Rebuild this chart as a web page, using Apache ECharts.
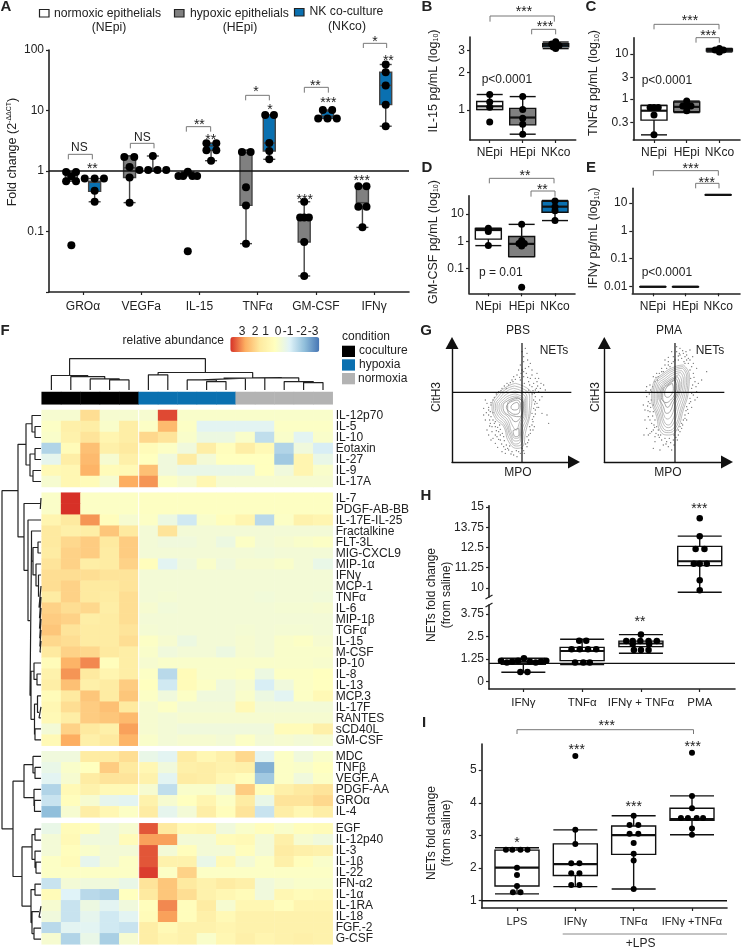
<!DOCTYPE html>
<html><head><meta charset="utf-8">
<style>html,body{margin:0;padding:0;background:#fff}#c{width:742px;height:949px}</style>
<script src="https://cdn.jsdelivr.net/npm/echarts@6/dist/echarts.min.js"></script>
</head><body><div id="c"></div>
<script>
// ---------- Panel A ----------
const aCategories=['GROα','VEGFa','IL-15','TNFα','GM-CSF','IFNγ'];
const aHEpiBox=[[.68,.68,.75,.96,.96],[.3,.78,1.13,1.77,1.77],[.83,.83,.85,.97,.97],[.063,.27,2.0,2.2,2.2],[.0184,.067,.16,.17,.31],[.117,.257,.3,.57,.57]];
const aNKcoBox=[[.31,.46,.65,.68,.75],[1.0,1.0,1.04,1.1,1.77],[1.48,2.2,2.6,2.87,2.87],[1.56,2.14,2.9,8.4,8.4],[7.4,7.4,8,9.8,10.2],[5.5,12.5,26,43,57.6]];
const aHEpiPoints=[[.96,.96,.68,.68,.82,.059],[1.7,1.7,1.16,.78,.30],[.83,.83,.83,.83,.97,.047],[2.06,2.06,.54,.27,.063],[.31,.17,.17,.17,.067,.0184],[.56,.56,.257,.257,.117]];
const aHEpiJitter=[[-.09,.08,-.09,.08,0,0],[-.09,.08,0,0,0],[-.16,-.08,.08,.16,0,0],[-.07,.08,0,0,0],[0,-.07,0,.08,0,0],[-.07,.07,-.07,.07,0]];
const aNKcoPoints=[[.75,.75,.75,.47,.31],[1.04,1.04,1.04,1.04,1.77],[2.87,2.87,2.2,2.2,1.48],[8.4,8.4,2.9,2.14,1.56],[10.2,10.2,7.4,7.4,7.4],[57.6,43,26,12.5,5.5]];
const aNKcoJitter=[[-.17,0,.16,0,0],[-.23,-.08,.08,.23,0],[-.08,.09,-.08,.09,0],[-.07,.08,0,0,0],[-.08,.08,-.16,0,.16],[0,0,0,0,0]];
// ---------- Panels B-E ----------
const groupNames=['NEpi','HEpi','NKco'];
const bBox=[[1.01,1.01,1.07,1.17,1.33],[.64,.76,.87,1.03,1.28],[3.1,3.2,3.3,3.4,3.5]];
const bPoints=[[1.33,1.16,1.05,.8],[1.28,1.01,.86,.77,.64],[3.37,3.52,3.28,3.11,3.2]];
const bJitter=[[0,0,0,0],[0,0,0,0,0],[-.12,0,.1,0,-.07]];
const cBox=[[.16,.34,.55,.72,.72],[.5,.52,.67,.86,.9],[11.1,11.6,12.3,12.9,13.3]];
const cPoints=[[.65,.65,.65,.44,.16],[.9,.7,.7,.7,.55],[13.3,12.3,12.3,11.1]];
const cJitter=[[-.12,0,.13,0,0],[0,-.12,0,.13,0],[0,-.13,.12,0]];
const dBox=[[.69,1.2,2.6,3.0,3.0],[.27,.27,.8,1.5,4.2],[5.8,11.7,18.9,30,32]];
const dPoints=[[3.0,2.3,.69],[4.2,1.06,.67,.82,.82,.02],[30.5,18.9,13.5,5.8]];
const dJitter=[[0,0,0],[0,0,0,-.08,.08,0],[0,0,0,0]];
const eBox=[[.01,.01,.01,.01,.01],[.01,.01,.01,.01,.01],[19.3,19.3,19.3,19.3,19.3]];
// ---------- Panel F ----------
const conditions=['coculture','hypoxia','normoxia'];
const heatRowsA=['IL-12p70','IL-5','IL-10','Eotaxin','IL-27','IL-9','IL-17A'];
const heatValuesA=[
[-.3,-.3,1.2,-.3,-.3,-.3,2.8,-.2,-.2,-.2,-.2,-.2,-.2,-.2,-.2],
[-.1,.7,.8,-.2,.8,-.1,1.8,-.1,-.9,-.9,-.9,-.9,-.1,-.1,-.1],
[-.2,.6,1.1,.5,.8,1.3,1.1,-.2,-.6,-.6,-.2,-1.4,-.2,-.9,-.2],
[-1.6,.2,1.7,.7,1,.2,-.1,-.5,.8,.1,.8,.3,-1.6,-.5,-1.1],
[-.8,.8,1.8,-.3,.7,0,-.5,.9,-.4,0,0,0,-1.8,.5,-.7],
[.3,.4,1.9,.2,.3,1.7,-.5,-.7,-.7,-.7,-.7,0,-.5,.5,-.2],
[-.3,.4,.2,-.3,2,2.2,-.1,-.3,.4,-.3,-.3,-.3,-.3,-.3,-.3]];
const heatRowsB=['IL-7','PDGF-AB-BB','IL-17E-IL-25','Fractalkine','FLT-3L','MIG-CXCL9','MIP-1α','IFNγ','MCP-1','TNFα','IL-6','MIP-1β','TGFα','IL-15','M-CSF','IP-10','IL-8','IL-13','MCP.3','IL-17F','RANTES','sCD40L','GM-CSF'];
const heatValuesB=[
[-.15,3,-.1,-.1,-.1,-.05,-.05,-.05,-.05,-.05,-.05,-.05,-.05,-.05,-.05],
[-.15,3,-.1,-.1,-.1,-.05,-.05,-.05,-.05,-.05,-.05,-.05,-.05,-.05,-.05],
[.5,1,2.2,.1,-.3,-.1,-.6,-1.2,-.2,.1,.5,-1.5,-.1,.6,.5],
[1,.7,.8,1.6,1,-.4,1.1,-.4,-.4,-.4,-.4,-.4,-.4,-.4,-.4],
[1,1.3,1.5,1,1.5,-.4,-.5,-.5,-.4,-.6,-.1,-.4,-.3,-.2,-.1],
[.9,1.4,1.5,.9,1.5,-.4,-.4,-.4,-.4,-.4,-.4,-.45,-.4,-.4,-.4],
[1.1,1.4,.8,.9,1.4,.1,-.9,-.5,-.2,-.5,-.3,-.3,-.2,-.4,-.7],
[1.2,1.2,1.2,1.1,1.1,-.4,-.4,-.4,-.4,-.4,-.4,-.4,-.4,-.4,-.4],
[1.2,1.4,1,1,1.1,-.4,-.4,-.4,-.4,-.4,-.4,-.4,-.4,-.4,-.4],
[.9,1.4,1,.9,1.2,-.4,-.35,-.4,-.4,-.4,-.4,-.45,-.4,-.4,-.45],
[1.4,1.2,1.3,.8,1.2,-.3,-.45,-.4,-.4,-.4,-.4,-.4,-.35,-.35,-.3],
[1.5,1.4,.8,.9,1.2,-.4,-.4,-.4,-.4,-.4,-.4,-.4,-.4,-.4,-.4],
[1.6,1.1,.9,.9,1.1,-.35,-.4,-.4,-.4,-.4,-.35,-.4,-.35,-.35,-.4],
[1.3,1.2,.9,.9,1.2,-.1,-.3,-.6,-.4,-.4,-.3,-.4,-.2,-.1,-.3],
[1,1.4,1.3,1,.8,-.2,-.5,-.4,-.4,-.6,-.3,-.4,-.2,-.2,-.2],
[.2,1.9,2.3,.1,.8,-.3,-.2,-.2,-.2,-.2,-.2,-.2,-.2,-.2,-.25],
[.6,2.2,1,.5,.8,-.1,-1.5,.2,-.2,-.2,-.1,-.6,-.1,-.1,0],
[.8,1.7,.7,.9,1.5,0,-1.2,.2,-.1,-.5,-.3,-1.1,-.5,-.1,0],
[.2,1,1.6,.9,1.6,-.1,-.5,-.1,-.5,-.5,-.2,-.6,-.9,-.1,.3],
[.4,1.2,1.5,1.7,1,-.3,-.1,-.4,-.4,-.4,.3,-.4,-.4,-.4,-.4],
[.3,.8,1.5,1.6,1.8,-.3,-.4,-.3,-.3,-.3,-.3,-.3,-.3,-.3,-.3],
[-.4,1.4,1,.7,2.1,-.3,-.4,-.5,-.5,-.5,-.5,-.5,.2,.2,.7],
[.3,2,.7,1,1.9,-.2,-.4,-.3,-.3,-.4,-.1,-.4,-.3,-.4,-.3]];
const heatRowsC=['MDC','TNFβ','VEGF.A','PDGF-AA','GROα','IL-4'];
const heatValuesC=[
[-.5,-.5,.9,.9,1.2,-.7,-.9,.9,.4,.7,1.3,-.9,-.1,-.5,-.2],
[-.7,-.2,0,1.5,1,.4,-.5,.7,.8,.6,.7,-2.2,-.1,-.2,0],
[-.9,-.3,.9,1.1,1.1,.6,-.9,.9,.8,.4,.1,-1.8,-.1,-.5,-.1],
[-1.6,.3,.6,.3,.3,-.3,-1.4,-.2,-.2,-.5,1.5,.1,.7,1,1.1],
[-1.3,.1,-.3,-.8,-.9,.6,-.3,0,.5,-.1,.9,-.7,1.1,1.1,1.3],
[-2,-.3,.8,.4,-.1,.9,-.8,-.4,.8,.1,1.1,-1.3,.8,.4,.8]];
const heatRowsD=['EGF','IL-12p40','IL-3','IL-1β','IL-22','IFN-α2','IL-1α','IL-1RA','IL-18','FGF.-2','G-CSF'];
const heatValuesD=[
[-.7,.2,.1,-.5,-.3,2.7,1,.3,.4,-.5,-.2,.1,-.2,.1,.2],
[-.4,.3,-.5,-.5,.2,2.1,2.1,-.4,-.4,.2,.3,-.4,.7,-.3,-.5],
[-.4,.1,-.2,-.4,-.4,2.7,-.4,.1,-.4,-.4,.1,-.4,.9,.7,.6],
[-.1,.2,-.8,-.4,-.1,2.7,.6,.6,-.7,.3,-.4,-.1,.7,.1,-.2],
[-.1,-.1,-.1,-.1,-.1,2.9,-.1,1.4,-.1,-.1,-.1,-.1,-.1,-.1,-.1],
[-1.3,-.4,-.5,-.5,-.7,1.1,1.6,1,.6,.9,.7,-.5,-.3,-.2,-.2],
[.2,-1,-1.5,-1.6,0,1,1.6,1.2,.6,.4,.2,-.5,.4,.2,.3],
[-.3,-1.3,-.6,-.9,-.5,.1,2.3,.1,.9,-.3,.4,.4,.1,.5,.5],
[-.5,-1.3,-.8,-1.2,-.9,.2,2.1,.1,.7,.3,.6,.6,.6,.6,.6],
[-1.5,-.9,-.9,-1.2,-1.3,.8,.3,.6,.6,.5,.6,.6,.6,.6,.6],
[-.3,-1.6,-.7,-1.7,-.3,.8,.5,.6,-.2,.4,.7,.5,.6,.7,.6]];
// dendrogram trees: [merge height, left child, right child]; a number is a leaf index
const colTree=[93,[43,0,[40,1,[33,2,[30,3,4]]]],[52,[45,5,6],[37,[35,[30,7,[25,8,9]],10],[36,11,[25,12,[22,13,14]]]]]];
const rowTree=[39,[23,[15,[9,0,[6,1,2]],[11,[6,3,4],[8,5,6]]],[17,[.7,7,8],[13,9,[11,
 [9.5,10,[8,[3,11,12],[5,13,[2.5,14,[2,15,[1.5,16,[1.5,17,[1.3,18,[1.2,19,[1,20,21]]]]]]]]]],
 [10,[7,22,[4,23,24]],[6.5,[3.5,25,[2,26,27]],[6,28,29]]]]]]],
 [28,[17,[8,30,[6,31,32]],[7,33,[6.5,34,35]]],[19,[9,[6,36,37],[6,38,[5,39,40]]],[10,[6,41,42],[9,[2,43,44],[7,45,46]]]]]];
// ---------- Panel G ----------
const pbsContours=[
[[285,190],[335,225],[330,280],[315,340],[310,375],[290,385],[265,365],[250,320],[225,295],[215,260],[230,225],[260,200]],
[[283,198],[328,228],[326,280],[310,335],[305,370],[288,378],[268,358],[252,315],[228,290],[220,258],[235,228],[260,206]],
[[280,205],[320,230],[320,280],[305,330],[300,365],[285,372],[270,350],[255,310],[232,285],[225,258],[240,232],[262,212]],
[[283,213],[316,235],[316,280],[302,322],[299,358],[285,363],[271,342],[258,305],[236,281],[230,258],[245,235],[265,219]],
[[285,222],[312,240],[312,280],[300,315],[298,350],[285,355],[273,335],[262,300],[240,278],[236,258],[250,238],[268,226]],
[[288,228],[309,244],[309,278],[298,306],[287,330],[277,318],[264,292],[245,274],[242,258],[256,240],[272,231]],
[[288,232],[305,245],[305,280],[295,300],[285,305],[270,290],[250,272],[248,258],[262,242]],
[[292,235],[310,250],[308,272],[296,290],[280,288],[262,270],[262,252],[275,240]],
[[290,240],[300,250],[298,275],[285,283],[268,275],[258,262],[268,248]],
[[290,247],[296,255],[292,268],[282,270],[272,262],[278,252]],
[[278,332],[294,325],[296,345],[285,350]]];
const pmaContours=[
[[790,135],[808,165],[805,215],[790,270],[770,330],[745,345],[722,335],[710,290],[695,235],[700,190],[730,160],[765,140]],
[[789,140],[804,168],[801,215],[786,268],[767,324],[745,338],[725,328],[714,288],[699,235],[704,192],[732,164],[765,145]],
[[788,145],[800,170],[796,215],[782,265],[765,318],[745,332],[728,322],[718,285],[703,235],[708,195],[735,168],[765,150]],
[[785,152],[795,174],[791,215],[777,260],[761,309],[745,323],[731,313],[721,278],[708,235],[712,198],[738,173],[765,156]],
[[782,158],[790,178],[786,215],[772,255],[758,300],[745,315],[733,305],[724,270],[712,235],[716,200],[740,178],[765,162]],
[[777,164],[785,184],[780,218],[767,250],[754,288],[742,297],[731,283],[722,250],[716,232],[720,203],[742,182]],
[[772,170],[780,190],[775,220],[762,245],[750,275],[740,280],[730,260],[720,232],[724,205],[745,185]],
[[768,175],[775,194],[770,222],[757,243],[742,262],[733,248],[724,232],[727,208],[747,189]],
[[764,180],[770,197],[764,222],[752,240],[738,248],[728,232],[730,210],[748,192]],
[[757,190],[760,205],[754,224],[742,232],[734,222],[738,205]]];
const pbsEvents=[[315,85],[320,100],[310,110],[322,120],[300,135],[315,145],[335,150],[290,165],[310,170],[350,185],[370,195],[360,205],[345,210],[275,180],[260,190],[245,205],[235,215],[365,230],[350,250],[345,270],[340,290],[380,285],[335,315],[330,340],[325,360],[320,380],[200,250],[190,265],[205,285],[195,300],[210,310],[225,320],[215,335],[205,345],[230,350],[240,360],[225,370],[250,380],[245,395],[265,390],[300,400],[280,405],[210,275],[218,300],[235,335],[250,350],[335,200],[345,230],[355,215],[340,265],[305,95],[330,130],[350,160],[355,175],[320,350],[338,330],[225,345],[258,375],[215,320],[300,180],[325,185],[340,190],[280,170],[265,195],[330,175],[345,245],[338,305],[328,320],[205,270],[212,255],[218,240],[208,300],[222,310],[238,315],[240,345],[252,362],[262,385],[275,395],[295,395],[310,392],[322,368],[335,280],[342,220],[352,198],[328,195],[385,310],[310,125],[295,150],
[302,160],[318,160],[285,178],[270,188],[252,198],[242,212],[228,222],[222,232],[212,248],[205,262],[198,278],[212,290],[218,278],[225,305],[232,322],[228,332],[240,328],[246,340],[235,358],[244,372],[255,388],[268,378],[272,402],[288,392],[305,385],[316,372],[330,330],[336,298],[345,282],[350,262],[358,240],[340,240],[348,205],[338,212],[362,190],[325,210],[312,190],[298,172],[278,185],[258,205],[246,218],[208,318],[200,330],[218,355],[232,382],[305,150],[325,140],[310,155],[335,165],[345,175],[375,210],[355,262],[365,280],[342,320],[325,345],[312,400],[290,410],[255,400],[212,360],[195,240],[190,285],[322,172],[336,222],[343,252]];
const pmaEvents=[[770,95],[790,100],[760,110],[785,115],[800,105],[810,120],[820,130],[745,125],[735,135],[725,145],[710,160],[700,170],[820,160],[825,185],[815,205],[830,215],[810,235],[800,260],[805,280],[790,300],[780,320],[775,345],[760,360],[740,365],[725,360],[705,350],[690,340],[680,325],[695,310],[685,290],[700,275],[690,250],[680,230],[695,215],[680,200],[700,330],[715,345],[730,375],[745,380],[755,390],[860,155],[810,90],[770,80],[795,130],[810,150],[685,345],[672,345],[700,385],[720,390],[780,335],[795,285],[690,275],[675,270],[705,300],[815,220],[825,240],[800,120],[780,105],[755,95],[775,120],[755,130],[740,145],[715,170],[705,185],[690,195],[812,175],[818,195],[808,250],[798,272],[785,310],[768,352],[752,368],[715,330],[702,315],[692,262],[700,255],[685,245],[792,125],
[778,100],[795,110],[805,130],[765,120],[750,140],[730,155],[718,160],[712,180],[698,200],[688,222],[694,240],[683,258],[698,288],[690,300],[704,322],[695,335],[708,340],[718,352],[735,355],[748,355],[762,345],[775,330],[788,315],[795,295],[803,268],[812,245],[820,225],[828,200],[822,172],[815,140],[805,115],[788,92],[775,108],[760,125],[745,135],[725,155],[708,172],[692,210],[678,212],[684,272],[710,320],[722,345],[738,372],[762,375],[772,360],[785,325],[800,300],[815,262],[832,232],[835,190],[830,145],[818,110],[798,95],[780,85],[745,112],[735,120],[705,365],[675,300],[670,255],[845,180]];
// ---------- Panel H ----------
const hCategories=['IFNγ','TNFα','IFNγ + TNFα','PMA'];
const hBoxLower=[[.5,.95,1.0,1.1,1.28],[.93,1.15,1.69,1.89,2.34],[1.56,1.93,2.1,2.24,2.6]];
const hBoxUpper=[[9.73,11.38,11.65,12.57,13.2]];
const hPointsLower=[[1.15,1.04,1.1,1.15,1.28,1.1,1.04,1.1,1.15,.52,.52],[2.26,2.26,1.78,1.78,1.78,1.78,1.04,1.04,1.04],[2.6,2.24,2.24,2.24,2.24,2.24,2.08,2.08,1.74,1.74,1.74]];
const hJitterLower=[[-.38,-.28,-.19,-.09,.01,.11,.21,.3,.39,-.05,.07],[-.05,.07,-.18,-.04,.1,.24,-.12,.02,.13],[0,-.25,-.14,-.01,.13,.27,-.14,.14,-.12,0,.13]];
const hPointsUpper=[[14.3,13.2,12.4,12.4,11.5,11.5,11.5,10.47,9.86]];
const hJitterUpper=[[0,0,-.07,.08,-.1,0,.12,0,0]];
// ---------- Panel I ----------
const iCategories=['LPS','IFNγ','TNFα','IFNγ +TNFα'];
const iBox=[[1.21,1.45,2.01,2.55,2.62],[1.43,1.77,2.12,2.74,3.17],[1.36,2.42,3.01,3.29,3.6],[3.02,3.46,3.5,3.83,4.21]];
const iPoints=[[2.56,2.56,2.56,2.56,2.01,1.79,1.45,1.26,1.26],[5.43,3.17,2.74,2.15,2.15,1.84,1.84,1.48,1.48],[3.6,3.32,3.32,3.05,3.05,2.77,2.44,2.23,1.36],[5.53,4.21,3.83,3.53,3.53,3.53,3.53,3.21,3.02]];
const iJitter=[[-.19,-.08,.06,.18,0,0,0,-.07,.06],[0,0,0,-.07,.07,-.07,.07,-.07,.07],[0,-.07,.08,-.07,.08,0,0,0,0],[0,0,0,-.19,-.07,.08,.19,0,0]];

const INK='#222',BLUE='#0a70b0',GREY='#808080',FONT='"Liberation Sans",Arial,sans-serif';
const grid=[],xAxis=[],yAxis=[],series=[],graphic=[];
const axisLine={show:true,onZero:false,lineStyle:{color:INK,width:1.6}};
const axisTick={show:true,length:3,lineStyle:{color:INK,width:1.2}};
function addGrid(g,x,y){const i=grid.length;grid.push(Object.assign({containLabel:false},g));
  xAxis.push(Object.assign({gridIndex:i,splitLine:{show:false}},x));
  yAxis.push(Object.assign({gridIndex:i,splitLine:{show:false}},y));return i;}
function catX(min,max,cats,fs,margin){return {type:'value',min,max,axisLine,
  axisTick:Object.assign({},axisTick,{customValues:cats.map((c,i)=>i)}),
  axisLabel:{customValues:cats.map((c,i)=>i),formatter:v=>cats[Math.round(v)],fontSize:fs||12,color:INK,fontFamily:FONT,margin:margin||6}};}
function valY(o,ticks,fmt){return Object.assign({axisLine,
  axisTick:ticks?Object.assign({},axisTick,{customValues:ticks}):axisTick,
  axisLabel:Object.assign({fontSize:12,color:INK,fontFamily:FONT,margin:5,showMinLabel:true,showMaxLabel:true},ticks?{customValues:ticks}:{},fmt?{formatter:fmt}:{})},o);}
function boxes(gi,rows,xs,width,fill,stroke,lw,medLw){
  series.push({type:'custom',xAxisIndex:gi,yAxisIndex:gi,z:3,clip:false,silent:true,
    encode:{x:0,y:[1,2,3,4,5]},
    data:rows.map((r,i)=>[xs[i]].concat(r)),
    renderItem(params,api){
      const x=api.value(0),P=d=>api.coord([x,api.value(d)]);
      const lo=P(1),q1=P(2),med=P(3),q3=P(4),hi=P(5),cx=lo[0],hw=width/2;
      const L=(x1,y1,x2,y2,w)=>({type:'line',shape:{x1,y1,x2,y2},style:{stroke,lineWidth:w||lw}});
      return {type:'group',children:[
        L(cx,hi[1],cx,q3[1]),L(cx,q1[1],cx,lo[1]),L(cx-hw,hi[1],cx+hw,hi[1]),L(cx-hw,lo[1],cx+hw,lo[1]),
        {type:'rect',shape:{x:cx-hw,y:q3[1],width:width,height:Math.max(q1[1]-q3[1],.1)},style:{fill,stroke,lineWidth:lw}},
        L(cx-hw,med[1],cx+hw,med[1],medLw)]};
    }});
}
function dots(gi,points,jitter,xs,size){
  const data=[];points.forEach((g,i)=>g.forEach((v,j)=>data.push([xs[i]+jitter[i][j],v])));
  series.push({type:'scatter',xAxisIndex:gi,yAxisIndex:gi,z:5,clip:false,silent:true,symbolSize:size,itemStyle:{color:'#000',opacity:1},data});
}
function refLine(gi,min,max,y){series.push({type:'line',xAxisIndex:gi,yAxisIndex:gi,z:4,silent:true,symbol:'none',lineStyle:{color:'#111',width:1.4},data:[[min,y],[max,y]]});}

// graphic helpers
function T(text,x,y,o){o=o||{};graphic.push({type:'text',x,y,rotation:o.rot||0,z:50,silent:true,style:{text,fill:o.fill||INK,fontSize:o.fs||12,fontFamily:FONT,fontWeight:o.bold?'bold':'normal',align:o.align||'center',verticalAlign:'middle',lineHeight:o.lh,rich:o.rich}});}
function Star(text,x,y){T(text,x,y+3,{fs:14});}
function Bracket(x1,x2,y1,y2){graphic.push({type:'polyline',z:50,silent:true,shape:{points:[[x1,y2],[x1,y1],[x2,y1],[x2,y2]]},style:{fill:'none',stroke:'#777',lineWidth:1}});}
function Rect(x,y,w,h,fill,stroke){graphic.push({type:'rect',z:50,silent:true,shape:{x,y,width:w,height:h},style:{fill,stroke:stroke||'none',lineWidth:stroke?1.2:0}});}
function Seg(x1,y1,x2,y2,c,w){graphic.push({type:'line',z:50,silent:true,shape:{x1,y1,x2,y2},style:{stroke:c||'#777',lineWidth:w||1}});}

// ---------- A ----------
{
  const minX=-.584,maxX=5.6;
  const gi=addGrid({left:49,top:50,width:360,height:242},catX(minX,maxX,aCategories,12,9),
    valY({type:'log',min:.01,max:100},null,v=>v<.02?'':String(v)));
  const h=aCategories.map((c,i)=>i-.2),n=aCategories.map((c,i)=>i+.2);
  boxes(gi,aHEpiBox,h,12,GREY,'#444',1.4,1.4);
  boxes(gi,aNKcoBox,n,12,BLUE,'#444',1.4,1.4);
  dots(gi,aHEpiPoints,aHEpiJitter,h,8);
  dots(gi,aNKcoPoints,aNKcoJitter,n,8);
  refLine(gi,minX,maxX,1);
}
T('{a|Fold change (2}{s|-ΔΔCT}{a|)}',12.5,152,{rot:Math.PI/2,rich:{a:{fontSize:12.5,fill:INK,fontFamily:FONT},s:{fontSize:7,fill:INK,fontFamily:FONT,padding:[0,0,6,0]}}});
T('A',6,7,{bold:true,fs:15});
Rect(39.5,9.5,9.5,7.5,'#fff','#222');T('normoxic epithelials',54,13.5,{align:'left',fs:12.2});T('(NEpi)',109,28,{fs:12.2});
Rect(174.5,9.5,9.5,7.5,GREY,'#222');T('hypoxic epithelials',190,13.5,{align:'left',fs:12.2});T('(HEpi)',240,28,{fs:12.2});
Rect(294.5,8.5,9.5,7.5,BLUE,'#222');T('NK co-culture',309.5,12,{align:'left',fs:12.2});T('(NKco)',347,27,{fs:12.2});
[[205,277,463,478],[391,462,430,445],[559,632,380,395],[737,808,286,301],[913,985,262,278],[1090,1160,130,144]].forEach(b=>Bracket(b[0]/3,b[1]/3,b[2]/3,b[3]/3));
T('NS',238/3,442/3);T('NS',427/3,412/3);
[['**',277,498],['**',598,365],['**',632,410],['*',768,266],['*',810,322],['**',946,248],['***',985,300],['*',1125,118],['**',1165,175],['***',914,590],['***',1085,535]].forEach(s=>Star(s[0],s[1]/3,s[2]/3));

// ---------- B-E ----------
function logPanel(o){
  const gi=addGrid({left:o.l,top:o.t,width:o.w,height:o.h},catX(o.minX,o.maxX,groupNames,12,7),
    valY({type:'log',min:o.min,max:o.max},o.ticks,v=>String(v)));
  const xs=[0,1,2];
  const fills=['#fff',GREY,BLUE];
  o.box.forEach((b,i)=>boxes(gi,[b],[i],26,fills[i],'#111',1.4,2.2));
  if(o.pts)dots(gi,o.pts,o.jit,xs,7);
  T(o.name+' pg/mL (log{s|10})',o.nx,o.ny,{rot:Math.PI/2,fs:12.5,rich:{s:{fontSize:7,fill:INK,fontFamily:FONT,padding:[6,0,0,0]}}});
}
logPanel({l:470,t:37,w:105.7,h:103,minX:-.597,maxX:2.606,min:.575,max:3.84,name:'IL-15',nx:433.5,ny:81,ticks:[1,2,3],box:bBox,pts:bPoints,jit:bJitter});
logPanel({l:633.3,t:37.7,w:106.7,h:102.3,minX:-.633,maxX:2.63,min:.123,max:23,name:'TNFα',nx:594,ny:83,ticks:[.3,1,3,10],box:cBox,pts:cPoints,jit:cJitter});
logPanel({l:469,t:195.7,w:106,h:97.6,minX:-.58,maxX:2.6,min:.012,max:48,name:'GM-CSF',nx:433.5,ny:242,ticks:[.1,1,10],box:dBox,pts:dPoints,jit:dJitter});
logPanel({l:632.3,t:188.3,w:107.7,h:105,minX:-.63,maxX:2.67,min:.0058,max:33,name:'IFNγ',nx:594,ny:238,ticks:[.01,.1,1,10],box:eBox});
[['B',427,7],['C',591,7],['D',427,168],['E',591,168]].forEach(s=>T(s[0],s[1],s[2],{bold:true,fs:15}));
const X0=385;
[[315,508,48,65],[440,512,88,103],[807,1002,73,88],[933,1003,113,128],[313,507,535,550],[438,510,573,590],[805,1000,512,527],[932,1002,550,565]].forEach(b=>Bracket(X0+b[0]/3,X0+b[1]/3,b[2]/3,b[3]/3));
[['***',417,28],['***',480,72],['***',915,55],['***',970,98],['**',420,520],['**',472,560],['***',917,497],['***',965,540]].forEach(s=>Star(s[0],X0+s[1]/3,s[2]/3));
[['p<0.0001',290,238],['p<0.0001',770,243],['p = 0.01',282,818],['p<0.0001',770,818]].forEach(s=>T(s[0],X0+s[1]/3,s[2]/3,{align:'left'}));

// ---------- F heatmap ----------
const heatVisual=[];
function heat(rows,values,top){
  const gi=addGrid({left:41.7,top,width:291,height:rows.length*11},
    {type:'category',show:false,data:values[0].map((v,i)=>'s'+(i+1))},
    {type:'category',inverse:true,position:'right',data:rows,axisLine:{show:false},axisTick:{show:false},
     axisLabel:{interval:0,fontSize:12,color:INK,fontFamily:FONT,margin:3,align:'left'}});
  const data=[];values.forEach((r,y)=>r.forEach((v,x)=>data.push([x,y,v])));
  heatVisual.push(series.length);
  series.push({type:'heatmap',xAxisIndex:gi,yAxisIndex:gi,data,silent:true,progressive:0,itemStyle:{borderWidth:0}});
}
heat(heatRowsA,heatValuesA,410);
heat(heatRowsB,heatValuesB,492.7);
heat(heatRowsC,heatValuesC,751.3);
heat(heatRowsD,heatValuesD,823.3);
Seg(138.7,410,138.7,944.4,'#fff',1);
// condition bar
{
  const condColor={coculture:'#000000',hypoxia:'#0a70b0',normoxia:'#b3b3b3'};
  const gi=addGrid({left:41.7,top:392,width:291,height:12.3},
    {type:'category',show:false,data:heatValuesA[0].map((v,i)=>'s'+(i+1))},
    {type:'category',show:false,data:['condition']});
  const data=[];for(let i=0;i<15;i++){const c=conditions[Math.floor(i/5)];data.push({value:[i,0,1],itemStyle:{color:condColor[c]}});}
  series.push({type:'heatmap',xAxisIndex:gi,yAxisIndex:gi,data,silent:true});
}
// dendrograms
function walk(node,leafPos,seg,orient){
  if(typeof node==='number')return {p:leafPos(node),h:0};
  const a=walk(node[1],leafPos,seg,orient),b=walk(node[2],leafPos,seg,orient),H=node[0];
  seg.push(orient(a.p,a.h),orient(a.p,H),orient(b.p,H),orient(b.p,b.h),[null,null]);
  return {p:(a.p+b.p)/2,h:H};
}
{
  const seg=[];walk(colTree,i=>i+.5,seg,(p,h)=>[p,h]);
  const gi=addGrid({left:41.7,top:358,width:291,height:32},{type:'value',show:false,min:0,max:15},{type:'value',show:false,min:0,max:95});
  series.push({type:'line',xAxisIndex:gi,yAxisIndex:gi,symbol:'none',silent:true,clip:false,lineStyle:{color:'#222',width:1.2},connectNulls:false,data:seg});
}
{
  const offs=i=>i<7?i+.5:i<30?i+1:i<36?i+1.5:i+2.1;
  const seg=[];walk(rowTree,offs,seg,(p,h)=>[h,p]);
  const gi=addGrid({left:0,top:410,width:41,height:534},{type:'value',show:false,min:0,max:41,inverse:true},{type:'value',show:false,min:0,max:48.55,inverse:true});
  series.push({type:'line',xAxisIndex:gi,yAxisIndex:gi,symbol:'none',silent:true,clip:false,lineStyle:{color:'#222',width:1.2},connectNulls:false,data:seg});
}
T('F',5,331,{bold:true,fs:15});
T('relative abundance',224,341,{align:'right',fs:12});
[['3',242],['2',255],['1',265.7],['0',278],['-1',288],['-2',301.7],['-3',313]].forEach(s=>T(s[0],s[1],331.7,{fs:12}));
T('condition',342,337,{align:'left'});
Rect(342,345.7,13,11.3,'#000');T('coculture',359,351,{align:'left'});
Rect(342,359.3,13,11.3,BLUE);T('hypoxia',359,365,{align:'left'});
Rect(342,373,13,11.3,'#b3b3b3');T('normoxia',358,379,{align:'left'});

// ---------- G ----------
function flow(o){
  const gi=addGrid({left:o.l,top:343,width:o.w,height:119},
    {type:'value',min:o.x0,max:o.x1,axisTick:{show:false},axisLabel:{show:false},axisLine:{show:true,onZero:false,symbol:['none','triangle'],symbolSize:[13,12],lineStyle:{color:'#111',width:1.4}}},
    {type:'value',min:0,max:357,axisTick:{show:false},axisLabel:{show:false},axisLine:{show:true,onZero:false,symbol:['none','triangle'],symbolSize:[13,12],lineStyle:{color:'#111',width:1.4}}});
  const Y=z=>426-z;
  o.contours.forEach((c,i)=>{series.push({type:'line',xAxisIndex:gi,yAxisIndex:gi,symbol:'none',silent:true,smooth:.5,
    lineStyle:{color:i>5?'#808080':'#a0a0a0',width:.7},data:c.concat([c[0]]).map(p=>[p[0],Y(p[1])])});});
  series.push({type:'scatter',xAxisIndex:gi,yAxisIndex:gi,silent:true,symbolSize:1.3,itemStyle:{color:'#444'},data:o.events.map(p=>[p[0],Y(p[1])])});
  const lc={color:'#111',width:1.2};
  series.push({type:'line',xAxisIndex:gi,yAxisIndex:gi,symbol:'none',silent:true,lineStyle:lc,z:4,data:[[o.vx,0],[o.vx,357]]});
  series.push({type:'line',xAxisIndex:gi,yAxisIndex:gi,symbol:'none',silent:true,lineStyle:lc,z:4,data:[[o.x0,Y(217)],[o.hEnd,Y(217)]]});
}
flow({l:452,w:122,x0:95,x1:461,vx:305,hEnd:453,contours:pbsContours,events:pbsEvents});
flow({l:604.3,w:122.7,x0:553,x1:921,vx:765,hEnd:913,contours:pmaContours,events:pmaEvents});
T('G',426,331,{bold:true,fs:15});
T('PBS',518,331);T('NETs',554,351);T('CitH3',437,397,{rot:Math.PI/2});T('MPO',518,473);
T('PMA',669,331);T('NETs',710,351);T('CitH3',596,397,{rot:Math.PI/2});T('MPO',668,473);

// ---------- H ----------
{
  const minX=-.584,maxX=3.6;
  const up=addGrid({left:489,top:505.7,width:246,height:91.3},
    {type:'value',min:minX,max:maxX,show:false},
    valY({type:'value',min:9.44,max:15.08},[10,11.25,12.5,13.75,15],v=>String(v)));
  boxes(up,hBoxUpper,[3],44,'#fff','#111',1.4,2);
  dots(up,hPointsUpper,hJitterUpper,[3],6.5);
  const lo=addGrid({left:489,top:605,width:246,height:84},catX(minX,maxX,hCategories,11.5,8),
    valY({type:'value',min:-.43,max:4.25},[0,1.25,2.5,3.75],v=>String(v)));
  boxes(lo,hBoxLower,[0,1,2],44,'#fff','#111',1.4,2);
  dots(lo,hPointsLower,hJitterLower,[0,1,2],6.5);
  refLine(lo,minX,maxX,1);
}
T('H',426,496,{bold:true,fs:15});
Seg(485.5,599,492.5,595,'#222',1.3);Seg(485.5,607,492.5,603,'#222',1.3);
T('NETs fold change\n(from saline)',439,595,{rot:Math.PI/2,lh:15});
Star('***',420+838/3,490+47/3);Star('**',420+660/3,490+387/3);

// ---------- I ----------
{
  const minX=-.605,maxX=3.6;
  const gi=addGrid({left:481.7,top:744,width:245.3,height:164},catX(minX,maxX,iCategories,11,8),
    valY({type:'value',min:.776,max:5.8},[1,2,3,4,5],v=>String(v)));
  boxes(gi,iBox,[0,1,2,3],44,'#fff','#111',1.4,2.2);
  dots(gi,iPoints,iJitter,[0,1,2,3],6);
  refLine(gi,minX,maxX,1);
}
T('I',424,723,{bold:true,fs:15});
T('NETs fold change\n(from saline)',439,833,{rot:Math.PI/2,lh:15});
Bracket(517,693.5,729.7,734);Star('***',606.7,723);
[['*',291,345],['***',470,65],['***',641,237],['***',818,58]].forEach(s=>Star(s[0],420+s[1]/3,725+s[2]/3));
Seg(562.7,934,727,934,'#888',1);T('+LPS',640.7,944);

const chart=echarts.init(document.getElementById('c'),null,{renderer:'canvas'});
chart.setOption({animation:false,backgroundColor:'#fff',textStyle:{fontFamily:FONT},grid,xAxis,yAxis,series,graphic:{elements:graphic},
  visualMap:{type:'continuous',seriesIndex:heatVisual,min:-3,max:3,orient:'horizontal',inverse:true,left:215.3,top:322,itemWidth:15,itemHeight:89,text:null,calculable:false,showLabel:false,
    textStyle:{fontSize:0,color:'transparent'},
    inRange:{color:['#4575b4','#91bfdb','#e0f3f8','#ffffbf','#feeaa0','#fdae61','#d73027']}}});
</script></body></html>
